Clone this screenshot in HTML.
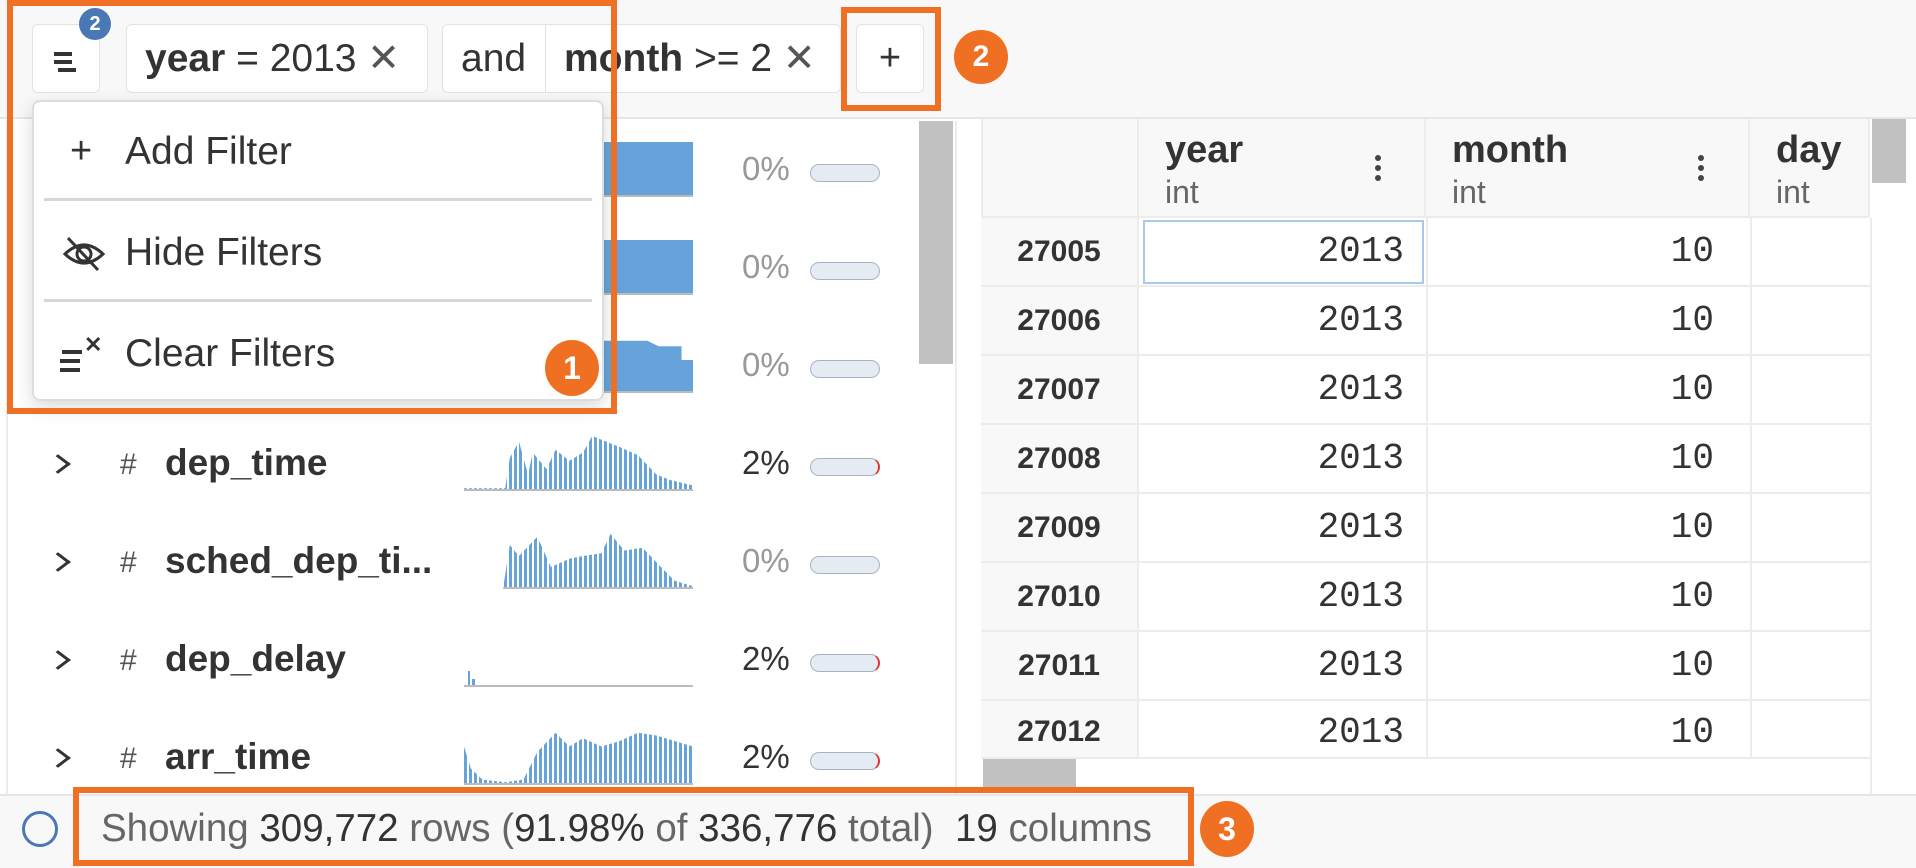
<!DOCTYPE html>
<html><head><meta charset="utf-8">
<style>
*{box-sizing:border-box;margin:0;padding:0}
body{width:1916px;height:868px;position:relative;overflow:hidden;background:#fff;font-family:"Liberation Sans",sans-serif;color:#333}
.a{position:absolute}
.chip{position:absolute;top:24px;height:69px;border:1px solid #e2e2e2;border-radius:6px;background:#fff;font-size:39px;line-height:67px;color:#333;white-space:nowrap}
.orange{position:absolute;border:6px solid #f07023}
.badge{position:absolute;border-radius:50%;background:#f07023;color:#fff;font-weight:bold;text-align:center}
.row{position:absolute;left:0;width:955px;height:98px}
.chev{position:absolute;left:50px;top:40px;width:16px;height:16px;border-right:3px solid #333;border-top:3px solid #333;transform:rotate(45deg) skew(-8deg,-8deg)}
.hash{position:absolute;left:120px;top:32px;font-size:30px;color:#555}
.name{position:absolute;left:165px;top:26px;font-size:37px;font-weight:bold;color:#333;white-space:nowrap}
.pct{position:absolute;left:742px;top:28px;font-size:33px;color:#333}
.pct.g{color:#999}
.pill{position:absolute;left:810px;top:42px;width:70px;height:18px;border:1.5px solid #aab4c0;border-radius:9px;background:#e4ebf3}
.pill.r{border-right:2.5px solid #d33}
.hist{position:absolute;left:464px;top:20px;width:229px;height:55px;border-bottom:2px solid #bbb}
.mi{position:absolute;left:125px;font-size:39px;color:#333}
.sep{position:absolute;left:44px;width:548px;height:3px;background:#d6d6d6}
.th{position:absolute;top:119px;height:99px;background:#f8f8f8;border-right:2px solid #ececec;border-bottom:2px solid #ececec}
.th b{position:absolute;left:26px;top:10px;font-size:38px;color:#333}
.th i{position:absolute;left:26px;top:55px;font-size:32px;font-style:normal;color:#666}
.keb{position:absolute;top:36px;width:6px;height:6px;background:#444;border-radius:50%;box-shadow:0 10px 0 #444,0 20px 0 #444}
.tr{position:absolute;left:981px;width:889px;height:69px;border-bottom:2px solid #ececec}
.rn{position:absolute;left:0;width:158px;height:100%;background:#f8f8f8;border-right:2px solid #ececec;text-align:center;font-size:30px;font-weight:bold;line-height:67px;color:#333}
.v{position:absolute;font-family:"Liberation Mono",monospace;font-size:36px;line-height:67px;color:#333;text-align:right}
</style></head><body>
<div class="a" style="left:0;top:0;width:1916px;height:119px;background:#f8f8f8;border-bottom:2px solid #e6e6e6"></div>
<div class="chip" style="left:32px;width:68px;"><div class="a" style="left:21px;top:27px;width:18px;height:4px;background:#333;box-shadow:0 8px 0 #333,4px 16px 0 #333"></div></div>
<div class="badge" style="left:79px;top:8px;width:32px;height:32px;background:#4a78b5;font-size:20px;line-height:32px">2</div>
<div class="chip" style="left:126px;width:302px;padding-left:18px"><b>year</b> = 2013 <span style="color:#555">✕</span></div>
<div class="chip" style="left:442px;width:399px;"><span class="a" style="left:18px">and</span><div class="a" style="left:102px;top:0;width:1px;height:67px;background:#e2e2e2"></div><span class="a" style="left:121px"><b>month</b> &gt;= 2 <span style="color:#555">✕</span></span></div>
<div class="chip" style="left:856px;width:68px;text-align:center;font-size:38px">+</div>
<div class="orange" style="left:841px;top:7px;width:100px;height:104px"></div>
<div class="badge" style="left:954px;top:30px;width:54px;height:54px;font-size:30px;line-height:54px">2</div>

<div class="a" style="left:6px;top:121px;width:951px;height:673px;border-left:2px solid #ececec;border-right:2px solid #ececec"></div>
<div class="a" style="left:919px;top:121px;width:34px;height:243px;background:#c1c1c1"></div>

<div class="row" style="top:122px"><div class="hist" style="background:#66a3da"></div><div class="pct g">0%</div><div class="pill"></div></div>
<div class="row" style="top:220px"><div class="hist" style="background:#66a3da"></div><div class="pct g">0%</div><div class="pill"></div></div>
<div class="row" style="top:318px"><div class="hist" style="background:#66a3da;clip-path:polygon(0 5%,80% 5%,85% 15%,95% 15%,95% 40%,100% 40%,100% 100%,0 100%)"></div><div class="pct g">0%</div><div class="pill"></div></div>

<div class="row" style="top:416px"><div class="chev"></div><div class="hash">#</div><div class="name">dep_time</div>
<div class="hist" style="background:repeating-linear-gradient(90deg,#66a3da 0 3px,transparent 3px 5px);clip-path:polygon(0 95%,18% 95%,20% 40%,24% 10%,28% 70%,30% 30%,36% 60%,40% 25%,46% 45%,52% 30%,56% 0,62% 10%,68% 20%,76% 35%,84% 70%,90% 80%,100% 90%,100% 100%,0 100%)"></div>
<div class="pct">2%</div><div class="pill r"></div></div>
<div class="row" style="top:514px"><div class="chev"></div><div class="hash">#</div><div class="name">sched_dep_ti...</div>
<div class="hist" style="background:repeating-linear-gradient(90deg,#66a3da 0 3px,transparent 3px 5px);clip-path:polygon(0 100%,17% 100%,20% 20%,24% 40%,32% 5%,38% 60%,46% 45%,52% 40%,60% 35%,64% 0,70% 30%,78% 25%,86% 60%,92% 85%,100% 95%,100% 100%)"></div>
<div class="pct g">0%</div><div class="pill"></div></div>
<div class="row" style="top:612px"><div class="chev"></div><div class="hash">#</div><div class="name">dep_delay</div>
<div class="hist"><div class="a" style="left:4px;bottom:0;width:2px;height:14px;background:#66a3da"></div><div class="a" style="left:8px;bottom:0;width:3px;height:6px;background:#66a3da"></div></div>
<div class="pct">2%</div><div class="pill r"></div></div>
<div class="row" style="top:710px"><div class="chev"></div><div class="hash">#</div><div class="name">arr_time</div>
<div class="hist" style="background:repeating-linear-gradient(90deg,#66a3da 0 3px,transparent 3px 5px);clip-path:polygon(0 30%,3% 70%,8% 90%,18% 95%,26% 90%,32% 40%,40% 5%,46% 30%,52% 15%,60% 30%,68% 20%,76% 5%,84% 10%,92% 20%,100% 30%,100% 100%,0 100%)"></div>
<div class="pct">2%</div><div class="pill r"></div></div>

<div class="a" style="left:32px;top:100px;width:572px;height:301px;background:#fff;border:2px solid #ddd;border-radius:8px;box-shadow:0 6px 18px rgba(0,0,0,.15)"></div>
<div class="a" style="left:70px;top:130px;font-size:38px;color:#333">+</div>
<div class="mi" style="top:130px">Add Filter</div>
<div class="sep" style="top:198px"></div>
<svg class="a" style="left:62px;top:236px" width="44" height="36" viewBox="0 0 44 36"><path d="M3 18 Q22 0 41 18 Q22 36 3 18Z" fill="none" stroke="#333" stroke-width="3"/><circle cx="22" cy="18" r="7" fill="none" stroke="#333" stroke-width="3"/><line x1="6" y1="2" x2="36" y2="34" stroke="#333" stroke-width="3"/></svg>
<div class="mi" style="top:231px">Hide Filters</div>
<div class="sep" style="top:299px"></div>
<div class="a" style="left:62px;top:350px;width:20px;height:4px;background:#333;box-shadow:-2px 9px 0 #333,-2px 18px 0 #333"></div>
<div class="a" style="left:84px;top:332px;font-size:22px;font-weight:bold;color:#333">✕</div>
<div class="mi" style="top:332px">Clear Filters</div>
<div class="orange" style="left:7px;top:0;width:610px;height:414px"></div>
<div class="badge" style="left:545px;top:340px;width:54px;height:56px;font-size:32px;line-height:56px">1</div>

<div class="a" style="left:959px;top:119px;width:957px;height:675px;background:#fff"></div>
<div class="th" style="left:981px;width:158px"></div>
<div class="th" style="left:1139px;width:287px"><b>year</b><i>int</i><div class="keb" style="left:236px"></div></div>
<div class="th" style="left:1426px;width:324px"><b>month</b><i>int</i><div class="keb" style="left:272px"></div></div>
<div class="th" style="left:1750px;width:120px"><b>day</b><i>int</i></div>
<div class="a" style="left:981px;top:119px;width:2px;height:640px;background:#ececec"></div>

<div class="tr" style="top:218px"><div class="rn">27005</div><div class="v" style="left:160px;width:263px">2013</div><div class="v" style="left:447px;width:286px">10</div></div>
<div class="tr" style="top:287px"><div class="rn">27006</div><div class="v" style="left:160px;width:263px">2013</div><div class="v" style="left:447px;width:286px">10</div></div>
<div class="tr" style="top:356px"><div class="rn">27007</div><div class="v" style="left:160px;width:263px">2013</div><div class="v" style="left:447px;width:286px">10</div></div>
<div class="tr" style="top:425px"><div class="rn">27008</div><div class="v" style="left:160px;width:263px">2013</div><div class="v" style="left:447px;width:286px">10</div></div>
<div class="tr" style="top:494px"><div class="rn">27009</div><div class="v" style="left:160px;width:263px">2013</div><div class="v" style="left:447px;width:286px">10</div></div>
<div class="tr" style="top:563px"><div class="rn">27010</div><div class="v" style="left:160px;width:263px">2013</div><div class="v" style="left:447px;width:286px">10</div></div>
<div class="tr" style="top:632px"><div class="rn">27011</div><div class="v" style="left:160px;width:263px">2013</div><div class="v" style="left:447px;width:286px">10</div></div>
<div class="tr" style="top:701px;height:58px"><div class="rn" style="line-height:62px">27012</div><div class="v" style="left:160px;width:263px;line-height:64px">2013</div><div class="v" style="left:447px;width:286px;line-height:64px">10</div></div>
<div class="a" style="left:1426px;top:218px;width:2px;height:541px;background:#ececec"></div>
<div class="a" style="left:1750px;top:218px;width:2px;height:541px;background:#ececec"></div>
<div class="a" style="left:1870px;top:218px;width:2px;height:576px;background:#ececec"></div>
<div class="a" style="left:1143px;top:220px;width:281px;height:64px;border:2px solid #a9c8ec"></div>
<div class="a" style="left:1872px;top:119px;width:34px;height:64px;background:#c1c1c1"></div>
<div class="a" style="left:983px;top:759px;width:93px;height:30px;background:#c1c1c1"></div>

<div class="a" style="left:0;top:794px;width:1916px;height:74px;background:#f8f8f8;border-top:2px solid #e6e6e6"></div>
<div class="a" style="left:22px;top:811px;width:36px;height:36px;border:3px solid #4a78b5;border-radius:50%"></div>
<div class="a" style="left:101px;top:807px;font-size:38.5px;color:#666;white-space:nowrap">Showing <span style="color:#333">309,772</span> rows (<span style="color:#333">91.98%</span> of <span style="color:#333">336,776</span> total) &nbsp;<span style="color:#333">19</span> columns</div>
<div class="orange" style="left:73px;top:787px;width:1121px;height:79px"></div>
<div class="badge" style="left:1200px;top:801px;width:54px;height:56px;font-size:32px;line-height:56px">3</div>
</body></html>
